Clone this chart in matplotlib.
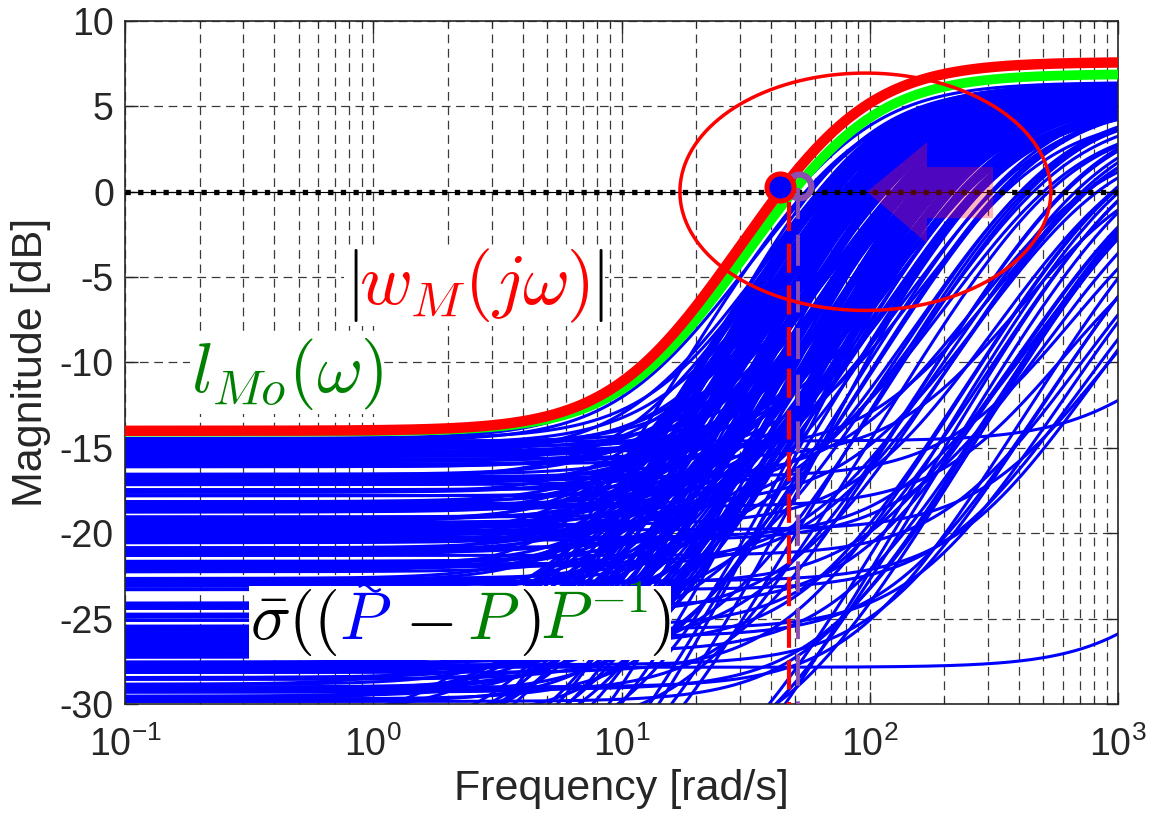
import numpy as np
import matplotlib
matplotlib.use("Agg")
import matplotlib.pyplot as plt
from matplotlib.offsetbox import TextArea, HPacker, AnnotationBbox, DrawingArea
from matplotlib.lines import Line2D
from matplotlib.patches import Polygon
from matplotlib.ticker import LogLocator, NullFormatter, FixedLocator

plt.rcParams["font.family"] = ["Liberation Sans", "DejaVu Sans"]
plt.rcParams["mathtext.fontset"] = "cm"
plt.rcParams["axes.unicode_minus"] = False

# |w_M(jw)| and l_Mo(w): low-frequency dB, high-frequency dB, mid frequency [rad/s]
WM_LO, WM_HI, WM_MID = -14.0, 7.6, 30.0
LMO_LO, LMO_HI, LMO_MID = -14.05, 6.9, 32.0

# relative model errors, spread group: low-freq dB, high-freq dB, mid frequency
blue_lo = [
    -14.45, -14.6, -14.75, -14.9, -15.05, -15.2, -15.35, -15.5, -15.65, -15.8, -15.95, -16.1,
    -16.55, -16.7, -16.85, -17.0, -17.15,
    -17.45, -17.6, -17.8,
    -18.15, -18.3, -18.45, -18.6, -18.75,
    -19.05, -19.2, -19.35, -19.5, -19.65, -19.8, -19.95, -20.1, -20.25, -20.4, -20.55,
    -20.85, -21.0, -21.15, -21.3,
    -21.65, -21.8, -21.95, -22.1, -22.25,
    -22.65, -22.8, -22.95, -23.1, -23.3,
    -24.1, -24.25, -24.4,
    -24.75, -24.9, -25.1,
    -25.45, -25.6, -25.75, -25.9, -26.05, -26.2, -26.35, -26.5, -26.65, -26.8, -26.95, -27.1, -27.25,
    -27.55, -27.7, -27.85, -28.0, -28.15,
    -28.45, -28.55,
    -28.85, -29.0, -29.15, -29.3,
    -29.55, -29.7, -29.85,
    -31.0, -32.0, -33.0, -31.5, -34.0, -35.0, -36.0, -33.0, -38.0, -40.0, -42.0, -37.0,
    -14.6,
    -15.2, -16.7, -18.3, -19.8, -20.4, -21.8, -22.8, -24.25, -25.6, -26.5, -27.7, -29.15,
]
blue_hi = [
    6.4, 6.2, 5.8, 6.0, 5.5, 4.8, 6.1, 5.2, 2.0, 5.9, 4.5, 6.0,
    5.6, 6.3, 3.0, 5.4, 6.1,
    5.0, 6.2, 4.2,
    5.8, 6.0, -1.0, 5.5, 6.2,
    4.6, 5.9, 6.1, 3.5, 5.7, 6.0, 5.2, 6.2, 2.5, 5.8, 6.0,
    4.8, 5.9, 6.1, 1.0,
    5.6, 6.0, 4.0, 5.8, 6.2,
    5.3, 6.0, 3.0, 5.7, 0.0,
    6.1, 5.0, 5.8,
    4.4, 6.0, 5.5,
    3.8, 6.1, 5.2, 6.2, 2.0, 5.7, 6.0, 4.6, 5.8, 6.2, 3.3, 5.5, 6.0,
    5.0, 6.1, -5.0, 5.6, 4.0,
    6.0, 5.3,
    6.2, 2.8, 5.7, 4.8,
    6.0, 5.4, 3.6,
    5.8, 6.0, 5.0, 4.2, 5.5, 3.5, 6.1, 2.5, 4.8, 4.0, 5.2, 4.0,
    -5.0,
    4.0, 1.5, 3.2, -0.5, 2.2, 4.5, 0.5, 3.0, 1.2, 4.2, 2.0, 3.5,
]
blue_mid = [
    30, 33, 45, 55, 70, 120, 36, 90, 400, 48, 160, 60,
    75, 36, 260, 100, 50,
    140, 40, 200,
    65, 45, 600, 85, 38,
    180, 55, 33, 320, 70, 44, 110, 30, 450, 60, 36,
    150, 48, 28, 700,
    80, 40, 240, 52, 26,
    95, 34, 380, 65, 700,
    30, 130, 45,
    210, 24, 75,
    290, 35, 105, 22, 520, 55, 28, 170, 42, 20, 340, 68, 32,
    120, 25, 4300, 60, 230,
    38, 90,
    18, 420, 50, 150,
    27, 80, 300,
    14, 22, 45, 110, 30, 200, 16, 250, 70, 150, 40, 160,
    1800,
    330, 650, 280, 900, 500, 230, 800, 360, 600, 250, 480, 320,
]

# dense fan just under l_Mo: low-freq dB, high-freq dB, mid frequency
fan_lo = [
    -14.45, -14.6, -14.75, -14.9, -15.05, -15.2, -15.35, -15.5, -15.65, -15.8, -15.95, -16.1,
    -16.55, -16.7, -16.85, -17.0, -17.15,
    -17.45, -17.6, -17.8,
    -18.15, -18.3, -18.45, -18.6, -18.75,
    -19.05, -19.2, -19.35, -19.5, -19.65, -19.8, -19.95, -20.1, -20.25, -20.4, -20.55,
    -20.85, -21.0, -21.15, -21.3,
    -21.65, -21.8, -21.95, -22.1, -22.25,
    -22.65, -22.8, -22.95, -23.1, -23.3,
    -24.1, -24.25, -24.4,
    -24.75, -24.9, -25.1,
    -25.45, -25.6, -25.75, -25.9, -26.05, -26.2, -26.35, -26.5, -26.65, -26.8, -26.95, -27.1, -27.25,
    -27.55, -27.7, -27.85, -28.0, -28.15,
    -28.45, -28.55,
    -28.85, -29.0, -29.15, -29.3,
    -29.55, -29.7, -29.85,
    -30.5, -31.2, -32.0, -32.8, -33.5, -34.2, -35.0, -36.0, -37.5, -39.0, -30.8, -31.8, -33.0,
    -34.8, -36.5,
]
fan_hi = [
    6.3, 5.6, 6.0, 5.0, 6.2, 5.8, 5.3, 6.1, 4.8, 5.9, 5.5, 6.2,
    6.2, 5.4, 5.9, 6.0, 5.1,
    5.7, 6.1, 5.2,
    6.3, 5.5, 5.9, 5.3, 6.1,
    5.8, 6.3, 5.4, 6.0, 5.0, 6.2, 5.9, 5.5, 6.3, 5.7, 6.0,
    6.1, 5.6, 5.9, 6.3,
    5.8, 6.1, 5.3, 6.2, 5.9,
    6.3, 5.9, 5.5, 6.1, 6.0,
    5.8, 6.2, 5.6,
    6.3, 6.0, 5.7,
    6.1, 5.9, 6.2, 5.6, 6.3, 6.0, 5.8, 6.2, 5.9, 6.3, 6.0, 5.5, 6.1,
    6.2, 5.9, 6.3, 5.7, 6.0,
    6.1, 5.8,
    6.3, 6.0, 6.2, 5.7,
    6.1, 6.3, 5.9,
    6.2, 6.0, 6.3, 5.8, 6.2, 6.1, 6.3, 5.7, 6.0, 5.5, 5.6, 6.2, 5.4,
    6.0, 5.2,
]
fan_mid = [
    40, 95, 60, 130, 48, 75, 110, 55, 140, 68, 85, 52,
    44, 100, 70, 58, 125,
    80, 50, 115,
    38, 90, 62, 105, 47,
    72, 35, 98, 54, 120, 43, 66, 88, 31, 77, 58,
    40, 85, 60, 33,
    70, 46, 95, 36, 57,
    29, 64, 82, 42, 52,
    58, 33, 75,
    26, 48, 66,
    40, 55, 30, 72, 24, 46, 62, 35, 52, 28, 44, 68, 38,
    32, 50, 22, 60, 41,
    36, 55,
    26, 45, 30, 58,
    34, 20, 48,
    18, 28, 24, 36, 20, 30, 25, 40, 32, 45, 50, 22, 55,
    35, 60,
]

# markers, guide lines and highlight shapes
CROSS_W_M = 43.3
CROSS_W_L = 52.0
VLINE_RED = 47.3
VLINE_PURPLE = 51.4
ELL_CENTER_W, ELL_HALF_DEC, ELL_HALF_DB = 96.0, 0.747, 6.95
ARROW_W = [97.5, 170, 170, 314, 314, 170, 170]
ARROW_DB = [0.0, 2.9, 1.45, 1.45, -1.55, -1.55, -3.0]

PURPLE = "#8A4FB0"
BLUE = "#0000FF"
DKGREEN = "#008000"


def mag_db(w, lo, hi, wmid, order=1.25):
    a = 10 ** (lo / (20 * order))
    b = 10 ** (hi / (20 * order))
    p = wmid * np.sqrt(b / a)
    s = 1j * w / p
    return 20 * order * np.log10(np.abs((a + b * s) / (1 + s)))


def math_label(ax, parts, xy, size, gap=10):
    children = []
    for part in parts:
        if part is None:
            children.append(DrawingArea(gap, 1))
        elif isinstance(part, DrawingArea):
            children.append(part)
        else:
            children.append(TextArea(part[0], textprops=dict(color=part[1], fontsize=size,
                                                             math_fontfamily="cm")))
    box = HPacker(children=children, align="baseline", pad=0, sep=0)
    ab = AnnotationBbox(box, xy, xycoords="data", frameon=True, pad=0.1,
                        box_alignment=(0.5, 0.5),
                        bboxprops=dict(facecolor="white", edgecolor="none"))
    ab.set_zorder(8)
    ax.add_artist(ab)


def main():
    w = np.logspace(-1, 3, 700)

    fig = plt.figure(figsize=(11.53, 8.27), dpi=100)
    ax = fig.add_axes([125 / 1153, 1 - 704 / 827, 993 / 1153, 683 / 827])
    ax.set_xscale("log")

    for lo, hi, mid in zip(blue_lo, blue_hi, blue_mid):
        ax.plot(w, mag_db(w, lo, hi, mid), color=BLUE, lw=2.2, zorder=2)
    for lo, hi, mid in zip(fan_lo, fan_hi, fan_mid):
        ax.plot(w, mag_db(w, lo, hi, mid, order=1.5), color=BLUE, lw=2.2, zorder=2)

    ax.plot(w, mag_db(w, LMO_LO, LMO_HI, LMO_MID, order=1.5), color="#00FF00", lw=7, zorder=3)
    ax.plot(w, mag_db(w, WM_LO, WM_HI, WM_MID, order=1.5), color="#FF0000", lw=7.5, zorder=4)

    # 0 dB line
    ax.axhline(0, color="black", lw=0.8, zorder=5)
    ax.axhline(0, color="black", lw=3.8, linestyle=(0, (1, 1.4)), zorder=5)

    ax.plot([VLINE_RED, VLINE_RED], [-0.6, -30], color="red", lw=3.0,
            linestyle=(0, (7, 3)), zorder=5)
    ax.plot([VLINE_PURPLE, VLINE_PURPLE], [0.2, -30], color=PURPLE, lw=2.8,
            linestyle=(0, (8, 4)), zorder=5)

    theta = np.linspace(0, 2 * np.pi, 300)
    ax.plot(ELL_CENTER_W * 10 ** (ELL_HALF_DEC * np.cos(theta)), ELL_HALF_DB * np.sin(theta),
            color="red", lw=2.5, zorder=6)

    ax.add_patch(Polygon(list(zip(ARROW_W, ARROW_DB)), closed=True, facecolor="#FF1730",
                         edgecolor="none", alpha=0.31, zorder=6))

    ax.plot(CROSS_W_L, 0.35, marker="o", ms=17, mfc="none", mec=PURPLE, mew=4.5, zorder=7)
    ax.plot(CROSS_W_M, 0.3, marker="o", ms=19.5, mfc=BLUE, mec="red", mew=3.6, zorder=7)

    # labels; the tilde accent is stroked in a zero-width area right after the blue P
    t = np.linspace(-0.85, 0.85, 40)
    tilde_box = DrawingArea(0, 1, clip=False)
    tilde_box.add_artist(Line2D(-15 + 8.5 * t, 37 - 2.4 * np.sin(np.pi * t), color=BLUE,
                                lw=1.9, solid_capstyle="round"))
    math_label(ax, [(r"$\bar{\sigma}(($", "black"), (r"$P$", BLUE), tilde_box, None,
                    (r"$-$", "black"), None, (r"$P$", DKGREEN), (r"$)$", "black"),
                    (r"$P^{-1}$", DKGREEN), (r"$)$", "black")], (2.24, -25.25), 48)

    math_label(ax, [(r"$|$", "black"), (r"$w_M(j\omega)$", "red"), (r"$|$", "black")],
               (2.55, -5.5), 52)
    math_label(ax, [(r"$l_{Mo}(\omega)$", DKGREEN)], (0.449, -10.7), 51)

    ax.set_xlim(0.1, 1000)
    ax.set_ylim(-30, 10)
    ax.yaxis.set_major_locator(FixedLocator(np.arange(-30, 11, 5)))
    ax.xaxis.set_major_locator(LogLocator(base=10, numticks=10))
    ax.xaxis.set_minor_locator(LogLocator(base=10, subs=np.arange(2, 10), numticks=20))
    ax.xaxis.set_minor_formatter(NullFormatter())

    ax.set_axisbelow(True)
    grid_style = dict(color="#3a3a3a", lw=0.9, linestyle=(0, (7, 4.5)))
    ax.grid(True, which="major", axis="both", **grid_style)
    ax.grid(True, which="minor", axis="x", **grid_style)

    ax.tick_params(which="both", direction="in", top=True, right=True, colors="#262626",
                   labelsize=27)
    ax.tick_params(which="major", length=9, width=1.0)
    ax.tick_params(which="minor", length=5, width=0.8)
    ax.tick_params(axis="x", pad=16)
    ax.tick_params(axis="y", pad=8)
    for sp in ax.spines.values():
        sp.set_color("#262626")
        sp.set_linewidth(1.2)

    ax.set_xlabel("Frequency [rad/s]", fontsize=31, color="#262626", labelpad=4)
    ax.set_ylabel("Magnitude [dB]", fontsize=31, color="#262626", labelpad=6)

    fig.savefig("out.png", dpi=100)
    plt.close(fig)


if __name__ == "__main__":
    main()
